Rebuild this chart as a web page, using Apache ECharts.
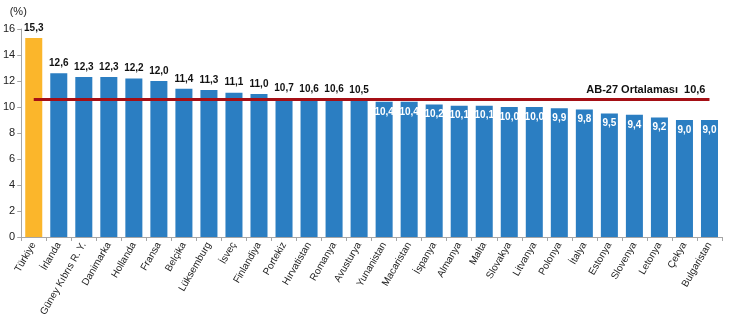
<!DOCTYPE html>
<html><head><meta charset="utf-8">
<script src="https://cdn.jsdelivr.net/npm/echarts@6/dist/echarts.min.js"></script>
<style>html,body{margin:0;padding:0;background:#fff}#c{width:730px;height:322px}</style>
</head><body><div id="c"></div>
<script>
const categories = ['Türkiye','İrlanda','Güney Kıbrıs R. Y.','Danimarka','Hollanda','Fransa','Belçika','Lüksemburg','İsveç','Finlandiya','Portekiz','Hırvatistan','Romanya','Avusturya','Yunanistan','Macaristan','İspanya','Almanya','Malta','Slovakya','Litvanya','Polonya','İtalya','Estonya','Slovenya','Letonya','Çekya','Bulgaristan'];
const values = [15.3,12.6,12.3,12.3,12.2,12.0,11.4,11.3,11.1,11.0,10.7,10.6,10.6,10.5,10.4,10.4,10.2,10.1,10.1,10.0,10.0,9.9,9.8,9.5,9.4,9.2,9.0,9.0];
const euAverage = 10.6;
const euLabel = 'AB-27 Ortalaması';
const yTicks = [0,2,4,6,8,10,12,14,16];

const fmt = v => v.toFixed(1).replace('.', ',');
const data = values.map((v, i) => {
  const inside = v < 10.45;
  return {
    value: v,
    itemStyle: { color: i === 0 ? '#FBB62B' : '#2B7EC2' },
    label: {
      show: true,
      position: inside ? 'insideTop' : 'top',
      distance: 5,
      color: inside ? '#ffffff' : '#111111',
      fontWeight: 'bold',
      fontSize: 10,
      fontFamily: 'Liberation Sans, Arial, sans-serif',
      formatter: p => fmt(p.value)
    }
  };
});

const chart = echarts.init(document.getElementById('c'));
chart.setOption({
  animation: false,
  grid: { left: 18, right: 8, top: 29, bottom: 85, containLabel: false },
  xAxis: {
    type: 'category',
    data: categories,
    axisLine: { lineStyle: { color: '#A6A6A6' } },
    axisTick: { show: true, alignWithLabel: false, length: 4, lineStyle: { color: '#A6A6A6' } },
    axisLabel: { rotate: 60, fontSize: 10, color: '#222', margin: 6, interval: 0, fontFamily: 'Liberation Sans, Arial, sans-serif' }
  },
  yAxis: {
    type: 'value',
    min: yTicks[0], max: yTicks[yTicks.length - 1], interval: 2,
    name: '(%)', nameLocation: 'end', nameGap: 12,
    nameTextStyle: { fontSize: 11, color: '#222', align: 'center', padding: [0, 6, 0, 0], fontFamily: 'Liberation Sans, Arial, sans-serif' },
    axisLine: { show: true, lineStyle: { color: '#A6A6A6' } },
    axisTick: { show: true, length: 4, lineStyle: { color: '#A6A6A6' } },
    splitLine: { show: false },
    axisLabel: { fontSize: 11, color: '#222', margin: 6, fontFamily: 'Liberation Sans, Arial, sans-serif' }
  },
  series: [{
    type: 'bar',
    data: data,
    barCategoryGap: '32%',
    markLine: {
      symbol: 'none',
      silent: true,
      lineStyle: { color: '#A50F15', width: 3, type: 'solid' },
      label: {
        show: true,
        position: 'insideEndTop',
        formatter: euLabel + '  ' + fmt(euAverage),
        color: '#111', fontWeight: 'bold', fontSize: 11, distance: 4,
        fontFamily: 'Liberation Sans, Arial, sans-serif'
      },
      data: [[
        { coord: [categories[0], euAverage] },
        { coord: [categories[categories.length - 1], euAverage] }
      ]]
    }
  }]
});
</script></body></html>
